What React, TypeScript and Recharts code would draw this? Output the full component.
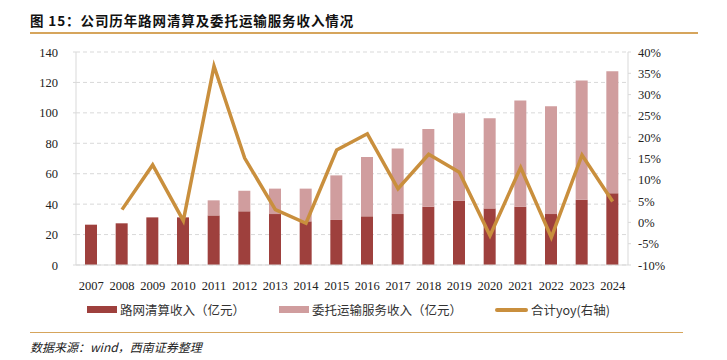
import { Bar, CartesianGrid, ComposedChart, Line, XAxis, YAxis } from "recharts";

const years = [
  "2007", "2008", "2009", "2010", "2011", "2012", "2013", "2014", "2015",
  "2016", "2017", "2018", "2019", "2020", "2021", "2022", "2023", "2024",
];
// 路网清算收入（亿元）
const clearingRevenue = [
  26.5, 27.4, 31.3, 31.3, 32.6, 35.3, 33.5, 28.7, 29.6,
  32, 33.5, 38.3, 42.3, 37.2, 38.3, 33.5, 42.9, 47.1,
];
// 委托运输服务收入（亿元）
const serviceRevenue = [
  0, 0, 0, 0, 9.9, 13.5, 16.7, 21.5, 29.3,
  39, 43, 51.1, 57.4, 59.2, 69.9, 70.8, 78.3, 80.2,
];
// 合计yoy (%)
const totalYoy = [
  null, 3, 13.5, 0.4, 36.7, 15.1, 3, -0.2, 17,
  20.8, 7.9, 16, 11.8, -3.1, 12.9, -3.5, 15.8, 4.9,
];
const leftTicks = [0, 20, 40, 60, 80, 100, 120, 140];
const rightTicks = [-10, -5, 0, 5, 10, 15, 20, 25, 30, 35, 40];
const boundaryTicks = years.map((_, i) => i).slice(1);

const legendItems = [
  { label: "路网清算收入（亿元）", color: "#9e403d", kind: "bar" },
  { label: "委托运输服务收入（亿元）", color: "#d09d9e", kind: "bar" },
  { label: "合计yoy(右轴)", color: "#c98f3d", kind: "line" },
];

const data = years.map((year, i) => ({
  year,
  clearing: clearingRevenue[i],
  service: serviceRevenue[i],
  yoy: totalYoy[i],
}));

const serif = "'Liberation Serif', 'Times New Roman', Times, serif";
const cjk = "'Noto Sans CJK SC', 'Noto Sans', sans-serif";

// draws a tick label in the serif face, anchored the way each axis needs
const serifTick =
  (anchor: "start" | "middle" | "end", dy: number, fmt: (v: any) => string = (v) => String(v)) =>
  (props: any) => {
    const { x, y, payload } = props;
    return (
      <text
        x={x}
        y={y}
        dy={dy}
        textAnchor={anchor}
        fill="#222"
        fontSize={12.5}
        fontFamily={serif}
      >
        {fmt(payload.value)}
      </text>
    );
  };

export default function App() {
  return (
    <div
      style={{
        position: "absolute",
        left: 0,
        top: 0,
        width: 727,
        height: 360,
        background: "#fff",
        fontFamily: cjk,
      }}
    >
      <div
        style={{
          position: "absolute",
          left: 30,
          top: 10,
          fontSize: 13.5,
          fontWeight: 700,
          letterSpacing: 0.9,
          color: "#111",
          whiteSpace: "nowrap",
        }}
      >
        图 15：公司历年路网清算及委托运输服务收入情况
      </div>
      <div style={{ position: "absolute", left: 30, top: 32, width: 668, height: 1.5, background: "#d6a55c" }} />

      <div style={{ position: "absolute", left: 0, top: 0, fontFamily: serif }}>
        <ComposedChart
          width={727}
          height={300}
          data={data}
          margin={{ top: 52, right: 0, bottom: 10, left: 0 }}
        >
          <CartesianGrid yAxisId="left" vertical={false} stroke="#d9d9d9" strokeDasharray="4 3" />
          <XAxis
            dataKey="year"
            height={25}
            interval={0}
            tickLine={false}
            axisLine={{ stroke: "#d9d9d9" }}
            tickMargin={9}
            tick={serifTick("middle", 10)}
          />
          <XAxis
            xAxisId="bounds"
            type="number"
            domain={[0, years.length]}
            ticks={boundaryTicks}
            interval={0}
            height={0}
            mirror
            tickSize={4}
            axisLine={false}
            tickLine={{ stroke: "#d9d9d9" }}
            tick={() => <g />}
          />
          <YAxis
            yAxisId="left"
            width={76}
            domain={[0, 140]}
            ticks={leftTicks}
            interval={0}
            tickSize={3}
            tickMargin={15}
            axisLine={{ stroke: "#d9d9d9" }}
            tickLine={{ stroke: "#d9d9d9" }}
            tick={serifTick("end", 4.5)}
          />
          <YAxis
            yAxisId="right"
            orientation="right"
            width={99}
            domain={[-10, 40]}
            ticks={rightTicks}
            interval={0}
            tickSize={3}
            tickMargin={7}
            axisLine={{ stroke: "#d9d9d9" }}
            tickLine={{ stroke: "#d9d9d9" }}
            tick={serifTick("start", 4.5, (v) => `${v}%`)}
          />
          <Bar yAxisId="left" dataKey="clearing" stackId="rev" barSize={12} fill="#9e403d" isAnimationActive={false} />
          <Bar yAxisId="left" dataKey="service" stackId="rev" barSize={12} fill="#d09d9e" isAnimationActive={false} />
          <Line
            yAxisId="right"
            dataKey="yoy"
            stroke="#c98f3d"
            strokeWidth={3.5}
            dot={false}
            strokeLinejoin="miter"
            isAnimationActive={false}
          />
        </ComposedChart>
      </div>

      {legendItems.map((item, i) => (
        <div
          key={item.label}
          style={{
            position: "absolute",
            left: [87, 279, 495][i],
            top: 300,
            display: "flex",
            alignItems: "center",
            fontSize: 12.5,
            color: "#333",
            whiteSpace: "nowrap",
          }}
        >
          <span
            style={{
              display: "inline-block",
              width: item.kind === "bar" ? 30 : 33,
              height: item.kind === "bar" ? 7 : 4,
              borderRadius: item.kind === "line" ? 2 : 0,
              background: item.color,
              marginRight: 3,
            }}
          />
          {item.label}
        </div>
      ))}

      <div style={{ position: "absolute", left: 30, top: 331.5, width: 653, height: 1.5, background: "#d6a55c" }} />
      <div
        style={{
          position: "absolute",
          left: 30,
          top: 338,
          fontSize: 12,
          fontStyle: "italic",
          color: "#222",
          whiteSpace: "nowrap",
        }}
      >
        数据来源：wind，西南证券整理
      </div>
    </div>
  );
}
